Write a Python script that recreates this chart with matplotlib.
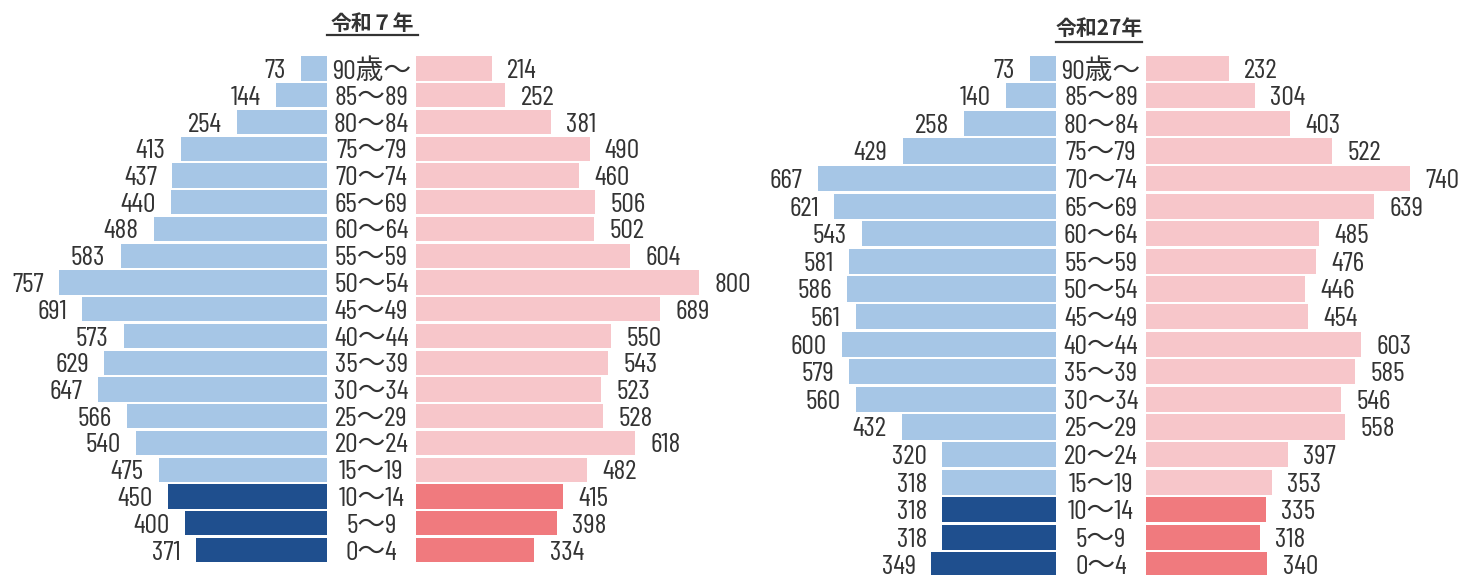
import matplotlib
matplotlib.use("Agg")
import matplotlib.pyplot as plt
from matplotlib.lines import Line2D

ages = ['0～4', '5～9', '10～14', '15～19', '20～24', '25～29', '30～34', '35～39',
        '40～44', '45～49', '50～54', '55～59', '60～64', '65～69', '70～74',
        '75～79', '80～84', '85～89', '90歳～']

r7_male = [371, 400, 450, 475, 540, 566, 647, 629, 573, 691, 757, 583, 488, 440,
           437, 413, 254, 144, 73]
r7_female = [334, 398, 415, 482, 618, 528, 523, 543, 550, 689, 800, 604, 502, 506,
             460, 490, 381, 252, 214]
r27_male = [349, 318, 318, 318, 320, 432, 560, 579, 600, 561, 586, 581, 543, 621,
            667, 429, 258, 140, 73]
r27_female = [340, 318, 335, 353, 397, 558, 546, 585, 603, 454, 446, 476, 485, 639,
              740, 522, 403, 304, 232]

titles = ['令和７年', '令和27年']

W, H = 1469, 575
LB, DB = '#a6c6e6', '#1f4f8e'
LP, DP = '#f7c6ca', '#f07a7e'
TXT = '#333333'
NUMFONT = ['Barlow Condensed', 'Noto Sans CJK JP', 'DejaVu Sans']
CJK = ['Noto Sans CJK JP', 'DejaVu Sans']
FS = 20

fig = plt.figure(figsize=(W / 100, H / 100), dpi=100)


def panel(x0, width, center_px, scale, row0_bottom, pitch, male, female, bar_h):
    ax = fig.add_axes([x0 / W, 0, width / W, 1])
    cx = center_px - x0
    ax.set_xlim(-cx / scale, (width - cx) / scale)
    ax.set_ylim(-row0_bottom / pitch, (H - row0_bottom) / pitch)
    ax.axis('off')
    half = 126
    ys = list(range(len(ages)))
    mcol = [DB if i < 3 else LB for i in ys]
    fcol = [DP if i < 3 else LP for i in ys]
    ax.barh(ys, [-m for m in male], left=-half, height=bar_h, color=mcol, linewidth=0)
    ax.barh(ys, female, left=half, height=bar_h, color=fcol, linewidth=0)
    for i in ys:
        ax.annotate(str(male[i]), (-half - male[i], i), xytext=(-11, 0),
                    textcoords='offset points', ha='right', va='center_baseline',
                    fontsize=FS, color=TXT, family=NUMFONT)
        ax.annotate(str(female[i]), (half + female[i], i), xytext=(11, 0),
                    textcoords='offset points', ha='left', va='center_baseline',
                    fontsize=FS, color=TXT, family=NUMFONT)
        ax.text(0, i, ages[i], ha='center', va='center_baseline', fontsize=FS,
                color=TXT, family=NUMFONT)
    return ax


panel(0, 740, 371.5, 0.354, 25, 26.75, r7_male, r7_female, 0.9)
panel(740, 729, 1101, 0.357, 10, 27.6, r27_male, r27_female, 0.91)

# titles with underline
fig.text(372 / W, 1 - 23 / H, titles[0], ha='center', va='center', fontsize=15,
         fontweight='bold', color=TXT, family=CJK)
fig.add_artist(Line2D([327 / W, 418 / W], [1 - 35 / H, 1 - 35 / H], color=TXT, lw=1.6))
fig.text(1099 / W, 1 - 28.5 / H, titles[1], ha='center', va='center', fontsize=15,
         fontweight='bold', color=TXT, family=CJK)
fig.add_artist(Line2D([1056 / W, 1142 / W], [1 - 42 / H, 1 - 42 / H], color=TXT, lw=1.6))

fig.savefig('out.png', dpi=100, facecolor='white')
